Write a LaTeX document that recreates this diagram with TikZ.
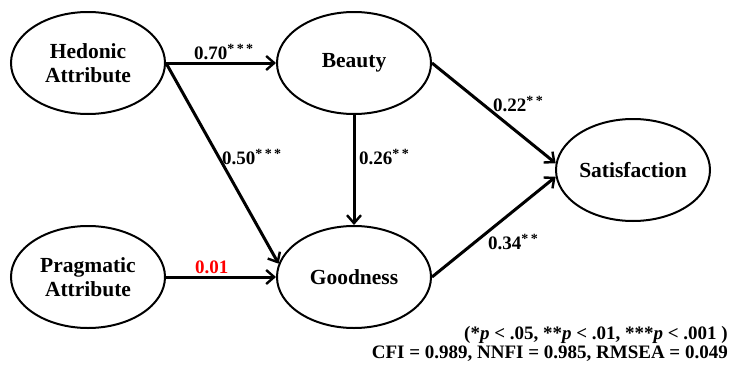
\documentclass[tikz,border=0pt]{standalone}
\usepackage{fontspec}
\setmainfont{Liberation Serif}
\usetikzlibrary{shapes.geometric,arrows.meta}
\newcommand{\sig}[1]{\raisebox{6pt}{\fontsize{14}{14}\selectfont #1}}
\begin{document}
\begin{tikzpicture}[x=1pt,y=-1pt,
  latent/.style={draw,ellipse,line width=2pt,minimum width=154pt,minimum height=102pt,inner sep=0pt,
    font=\fontsize{21.5}{24}\selectfont\bfseries,align=center},
  arr/.style={line width=3pt,-{Straight Barb[length=8pt,width=14pt,line width=2.4pt]}},
  lbl/.style={font=\fontsize{19}{20}\selectfont\bfseries,inner sep=0pt,anchor=west}]
\useasboundingbox (0,0) rectangle (730,372);
\node[latent] (hed) at (88,63) {Hedonic\\Attribute};
\node[latent] (beauty) at (354,63) {Beauty};
\node[latent] (prag) at (88,277) {Pragmatic\\Attribute};
\node[latent] (good) at (354,277) {Goodness};
\node[latent] (sat) at (633,170) {Satisfaction};
\draw[arr] (hed.east) -- (beauty.west);
\draw[arr] (hed.east) -- (good.170);
\draw[arr] (prag.east) -- (good.west);
\draw[arr] (beauty.south) -- (good.north);
\draw[arr] (beauty.east) -- (sat.175);
\draw[arr] (good.east) -- (sat.185);
\node[lbl] (l70) at (194,52) {0.70\sig{*\,*\,*}};
\node[lbl] (l50) at (222,157) {0.50\sig{*\,*\,*}};
\node[lbl] (l26) at (359,157) {0.26\sig{*\,*}};
\node[lbl] (l22) at (493,104) {0.22\sig{*\,*}};
\node[lbl] (l34) at (488,242) {0.34\sig{*\,*}};
\node[lbl,text=red] (l01) at (195,267) {0.01};
\node[font=\fontsize{19}{20}\selectfont\bfseries,inner sep=0pt,anchor=east] (note1) at (728,335)
  {(*\textit{p} < .05, **\textit{p} < .01, ***\textit{p} < .001 )};
\node[font=\fontsize{19}{20}\selectfont\bfseries,inner sep=0pt,anchor=east] (note2) at (728,354)
  {CFI = 0.989, NNFI = 0.985, RMSEA = 0.049};
\end{tikzpicture}
\end{document}
